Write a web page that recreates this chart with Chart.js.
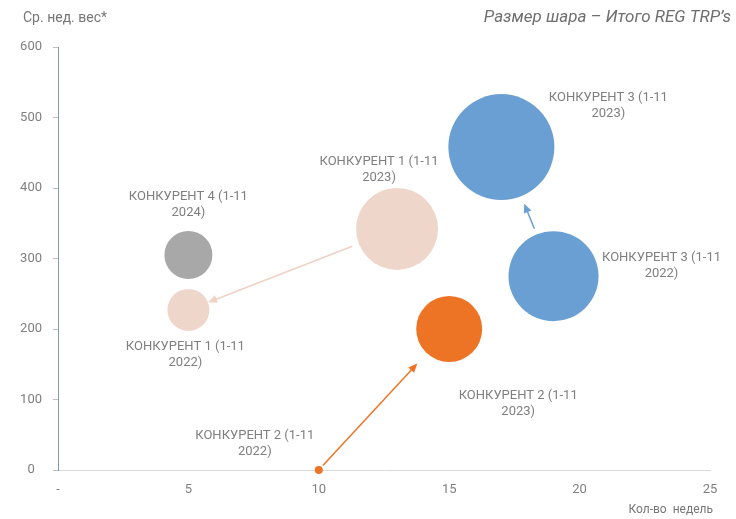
<!DOCTYPE html>
<html>
<head>
<meta charset="utf-8">
<script src="https://cdn.jsdelivr.net/npm/chart.js@4"></script>
<style>
  html, body { margin: 0; padding: 0; background: #fff; }
  #wrap { width: 736px; height: 519px; }
</style>
</head>
<body>
<div id="wrap"><canvas id="chartOne" width="736" height="519"></canvas></div>
<script>
// данные
const names = [
    ['КОНКУРЕНТ 4 (1-11', '2024)'],
    ['КОНКУРЕНТ 1 (1-11', '2022)'],
    ['КОНКУРЕНТ 1 (1-11', '2023)'],
    ['КОНКУРЕНТ 3 (1-11', '2023)'],
    ['КОНКУРЕНТ 3 (1-11', '2022)'],
    ['КОНКУРЕНТ 2 (1-11', '2023)'],
    ['КОНКУРЕНТ 2 (1-11', '2022)']
];
const weeks = [5, 5, 13, 17, 19, 15, 10];          // Кол-во недель
const avgWeight = [305, 227, 342, 458, 275, 200, 0]; // Ср. нед. вес
const ballSize = [24, 21, 41, 53, 45, 33, 4];       // размер шара (REG TRP's)
const xTickLabels = ['-', '5', '10', '15', '20', '25'];
const yTickLabels = ['0', '100', '200', '300', '400', '500', '600'];
// стрелки: [откуда, куда]
const arrows = [[2, 1], [4, 3], [6, 5]];

// стили
const colors = ['#a8a8a8', '#efd6cb', '#efd6cb', '#6a9fd3', '#6a9fd3', '#ee7425', '#ee7425'];
const arrowColors = ['#efd1c5', '#6a9fd3', '#ee7425'];
const arrowGaps = [[7, 0], [6, 8], [2, 14]];
const labelOffsets = [[0, -58], [-3, 37], [-18, -67], [107, -49], [108, -18], [69, 67], [-64, -34]];

const FONT = 'Roboto, "Open Sans", sans-serif';
const ctxOne = document.getElementById('chartOne').getContext('2d');

const extras = {
    id: 'extras',
    afterDatasetsDraw(chart) {
        const ctx = chart.ctx;
        const pts = chart.getDatasetMeta(0).data;
        ctx.save();
        // стрелки
        arrows.forEach((a, i) => {
            const p1 = pts[a[0]], p2 = pts[a[1]];
            const dx = p2.x - p1.x, dy = p2.y - p1.y;
            const len = Math.sqrt(dx * dx + dy * dy);
            const ux = dx / len, uy = dy / len;
            const s = ballSize[a[0]] + arrowGaps[i][0];
            const e = ballSize[a[1]] + arrowGaps[i][1];
            const x1 = p1.x + ux * s, y1 = p1.y + uy * s;
            const x2 = p2.x - ux * e, y2 = p2.y - uy * e;
            ctx.strokeStyle = arrowColors[i];
            ctx.fillStyle = arrowColors[i];
            ctx.lineWidth = 1.5;
            ctx.beginPath();
            ctx.moveTo(x1, y1);
            ctx.lineTo(x2 - ux * 6, y2 - uy * 6);
            ctx.stroke();
            ctx.beginPath();
            ctx.moveTo(x2, y2);
            ctx.lineTo(x2 - ux * 9 - uy * 4, y2 - uy * 9 + ux * 4);
            ctx.lineTo(x2 - ux * 9 + uy * 4, y2 - uy * 9 - ux * 4);
            ctx.closePath();
            ctx.fill();
        });
        // подписи
        ctx.fillStyle = '#7f7f7f';
        ctx.font = '13px ' + FONT;
        ctx.textAlign = 'center';
        ctx.textBaseline = 'middle';
        pts.forEach((p, i) => {
            const o = labelOffsets[i];
            names[i].forEach((line, j) => {
                ctx.fillText(line, p.x + o[0], p.y + o[1] + j * 16);
            });
        });
        // заголовки осей
        ctx.fillStyle = '#767676';
        ctx.textAlign = 'left';
        ctx.font = '14px ' + FONT;
        ctx.fillText('Ср. нед. вес*', 23, 18);
        ctx.textAlign = 'right';
        ctx.font = '12px ' + FONT;
        ctx.fillText('Кол-во  недель', 713, 510);
        ctx.font = 'italic 17px ' + FONT;
        ctx.fillStyle = '#6e6e6e';
        ctx.fillText('Размер шара – Итого REG TRP\u2019s', 731, 18);
        ctx.restore();
    }
};

const chartOne = new Chart(ctxOne, {
    type: 'bubble',
    data: {
        datasets: [{
            label: 'Dataset 1',
            data: weeks.map((w, i) => ({ x: w, y: avgWeight[i], r: ballSize[i] })),
            backgroundColor: colors,
            borderWidth: 0,
            clip: false
        }]
    },
    options: {
        responsive: false,
        animation: false,
        layout: { autoPadding: false, padding: { left: 0, right: 26, top: 47, bottom: 0 } },
        plugins: {
            legend: { display: false },
            tooltip: { enabled: false }
        },
        scales: {
            x: {
                type: 'linear',
                min: 0,
                max: 25,
                afterFit: s => { s.height = 49; },
                grid: { display: false, drawTicks: false },
                border: { display: true, color: '#d9d9d9', width: 1 },
                ticks: {
                    stepSize: 5,
                    padding: 12,
                    color: '#7f7f7f',
                    font: { family: FONT, size: 13 },
                    callback: (v, i) => xTickLabels[i]
                }
            },
            y: {
                min: 0,
                max: 600,
                afterFit: s => { s.width = 58; },
                grid: { display: true, drawOnChartArea: false, drawTicks: true, tickLength: 5, color: '#bfbfbf' },
                border: { display: true, color: '#8497b0', width: 1 },
                ticks: {
                    stepSize: 100,
                    padding: 11,
                    crossAlign: 'center',
                    color: '#7f7f7f',
                    font: { family: FONT, size: 13 },
                    callback: (v, i) => yTickLabels[i]
                }
            }
        }
    },
    plugins: [extras]
});
</script>
</body>
</html>
